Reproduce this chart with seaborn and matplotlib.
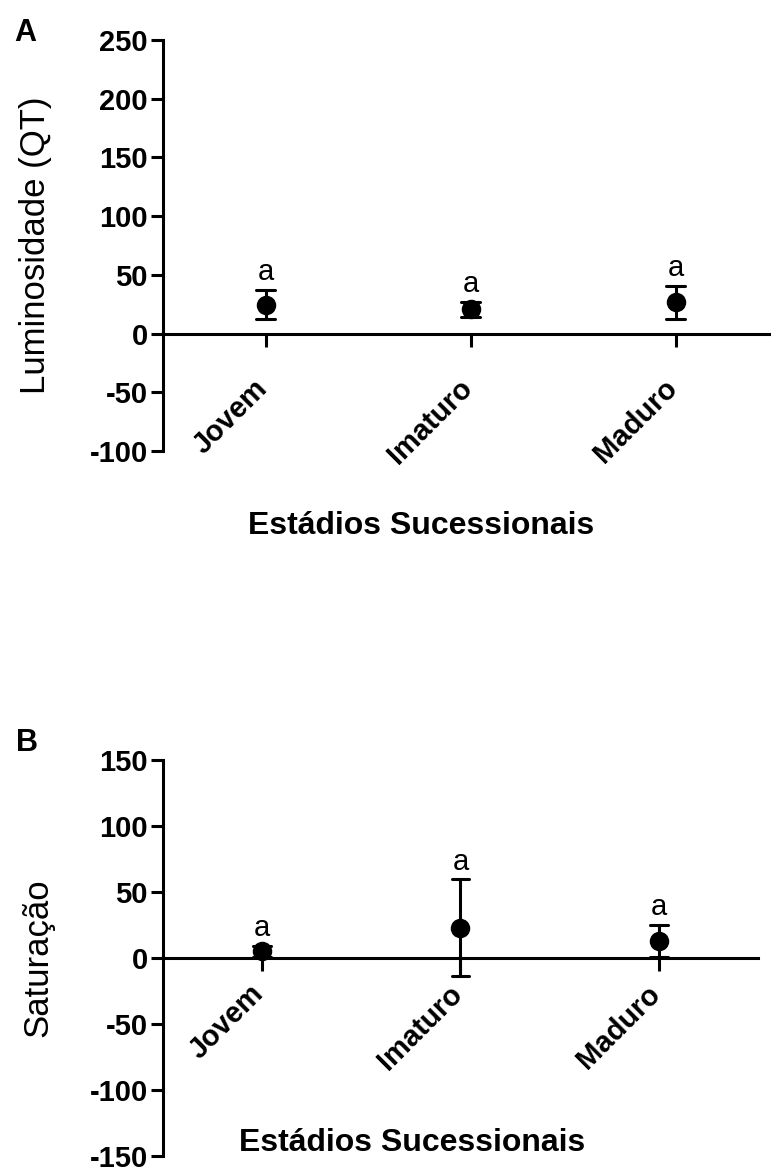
import matplotlib
matplotlib.use("Agg")
import matplotlib.pyplot as plt
import matplotlib.transforms as mtransforms
import pandas as pd
import seaborn as sns


stages = ["Jovem", "Imaturo", "Maduro"]

# A - Luminosidade (QT): mean and error half-width
lum_mean = [24.5, 20.5, 26.5]
lum_err = [12.5, 6.5, 14.0]
lum_letters = ["a", "a", "a"]

# B - Saturação: mean and error half-width
sat_mean = [5.0, 23.0, 13.0]
sat_err = [4.0, 36.5, 12.0]
sat_letters = ["a", "a", "a"]

lum_ticks = [-100, -50, 0, 50, 100, 150, 200, 250]
sat_ticks = [-150, -100, -50, 0, 50, 100, 150]

sns.set_style("ticks")
plt.rcParams["font.family"] = ["Liberation Sans", "DejaVu Sans"]
plt.rcParams["axes.unicode_minus"] = False
plt.rcParams["text.color"] = "black"
plt.rcParams["axes.edgecolor"] = "black"
plt.rcParams["xtick.color"] = "black"
plt.rcParams["ytick.color"] = "black"

LW = 2.2
FS = 21


def to_frame(means, errs):
    """Two rows per stage (lower / upper end of the bar), mean stays in the middle."""
    rows = []
    for st, m, e in zip(stages, means, errs):
        rows.append({"stage": st, "value": m - e})
        rows.append({"stage": st, "value": m + e})
    return pd.DataFrame(rows)


def draw_panel(ax, means, errs, letters, ticks, xlim, pad, fig):
    df = to_frame(means, errs)
    sns.pointplot(
        data=df, x="stage", y="value", order=stages,
        estimator="mean", errorbar=lambda v: (v.min(), v.max()),
        linestyle="none", marker="o", markersize=12,
        color="black", capsize=0.09,
        err_kws={"linewidth": LW}, ax=ax,
    )
    # significance letters above each bar
    for i, (m, e, lt) in enumerate(zip(means, errs, letters)):
        ax.annotate(lt, xy=(i, m + e), xytext=(0, 7), textcoords="offset points",
                    ha="center", va="baseline", fontsize=FS)

    ax.set_ylim(ticks[0], ticks[-1])
    ax.set_yticks(ticks)
    ax.set_xlim(*xlim)
    ax.spines["top"].set_visible(False)
    ax.spines["right"].set_visible(False)
    ax.spines["bottom"].set_position(("data", 0))
    for s in ("left", "bottom"):
        ax.spines[s].set_linewidth(LW)
    ax.tick_params(axis="both", width=LW, length=9, labelsize=FS)
    ax.tick_params(axis="y", pad=2)
    ax.tick_params(axis="x", pad=pad)
    ax.set_xticks(range(len(stages)))
    ax.set_xticklabels(stages, rotation=45, ha="right", fontweight="bold")
    shift = mtransforms.ScaledTranslation(7 / 100, 0, fig.dpi_scale_trans)
    for lab in ax.get_xticklabels():
        lab.set_transform(lab.get_transform() + shift)
    for lab in ax.get_yticklabels():
        lab.set_fontweight("bold")
    ax.set_xlabel("")
    ax.set_ylabel("")


W, H = 771, 1173
fig = plt.figure(figsize=(W / 100, H / 100), dpi=100)

ax_a = fig.add_axes([163 / W, 1 - 451 / H, (770 - 163) / W, 411 / H])
draw_panel(ax_a, lum_mean, lum_err, lum_letters, lum_ticks, (-0.5, 2.46), 20, fig)

ax_b = fig.add_axes([163 / W, 1 - 1156 / H, (758 - 163) / W, 396 / H])
draw_panel(ax_b, sat_mean, sat_err, sat_letters, sat_ticks, (-0.5, 2.5), 6.5, fig)

# axis titles and panel letters
fig.text(36 / W, 1 - 245 / H, "Luminosidade (QT)", rotation=90, ha="center", va="center", fontsize=25)
fig.text(38 / W, 1 - 958 / H, "Saturação", rotation=90, ha="center", va="center", fontsize=25)
fig.text(421 / W, 1 - 526 / H, "Estádios Sucessionais", ha="center", va="center",
         fontsize=23, fontweight="bold")
fig.text(412 / W, 1 - 1143 / H, "Estádios Sucessionais", ha="center", va="center",
         fontsize=23, fontweight="bold")
fig.text(25 / W, 1 - 33 / H, "A", ha="center", va="center", fontsize=22, fontweight="bold")
fig.text(27 / W, 1 - 743 / H, "B", ha="center", va="center", fontsize=22, fontweight="bold")

fig.savefig("out.png", dpi=100)
